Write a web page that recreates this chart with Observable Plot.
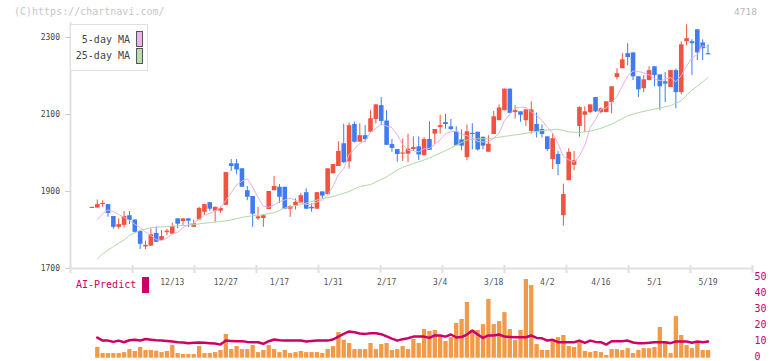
<!DOCTYPE html>
<html><head><meta charset="utf-8">
<script src="https://cdn.jsdelivr.net/npm/d3@7"></script>
<script src="https://cdn.jsdelivr.net/npm/@observablehq/plot@0.6"></script>
<style>
body{margin:0;background:#fff;}
#wrap{position:relative;width:772px;height:361px;overflow:hidden;font-family:"DejaVu Sans Mono",monospace;}
.abs{position:absolute;white-space:nowrap;line-height:1;}
</style></head><body><div id="wrap"></div>
<script>
const dates = ["2024-11-22","2024-11-25","2024-11-26","2024-11-27","2024-11-28","2024-11-29",
"2024-12-02","2024-12-03","2024-12-04","2024-12-05","2024-12-06",
"2024-12-09","2024-12-10","2024-12-11","2024-12-12","2024-12-13",
"2024-12-16","2024-12-17","2024-12-18","2024-12-19","2024-12-20",
"2024-12-23","2024-12-24","2024-12-25","2024-12-26","2024-12-27","2024-12-30",
"2025-01-06","2025-01-07","2025-01-08","2025-01-09","2025-01-10",
"2025-01-14","2025-01-15","2025-01-16","2025-01-17",
"2025-01-20","2025-01-21","2025-01-22","2025-01-23","2025-01-24",
"2025-01-27","2025-01-28","2025-01-29","2025-01-30","2025-01-31",
"2025-02-03","2025-02-04","2025-02-05","2025-02-06","2025-02-07",
"2025-02-10","2025-02-12","2025-02-13","2025-02-14",
"2025-02-17","2025-02-18","2025-02-19","2025-02-20","2025-02-21",
"2025-02-25","2025-02-26","2025-02-27","2025-02-28",
"2025-03-03","2025-03-04","2025-03-05","2025-03-06","2025-03-07",
"2025-03-10","2025-03-11","2025-03-12","2025-03-13","2025-03-14",
"2025-03-17","2025-03-18","2025-03-19","2025-03-21",
"2025-03-24","2025-03-25","2025-03-26","2025-03-27","2025-03-28",
"2025-03-31","2025-04-01","2025-04-02","2025-04-03","2025-04-04",
"2025-04-07","2025-04-08","2025-04-09","2025-04-10","2025-04-11",
"2025-04-14","2025-04-15","2025-04-16","2025-04-17","2025-04-18",
"2025-04-21","2025-04-22","2025-04-23","2025-04-24","2025-04-25",
"2025-04-28","2025-04-30","2025-05-01","2025-05-02",
"2025-05-07","2025-05-08","2025-05-09",
"2025-05-12","2025-05-13","2025-05-14","2025-05-15","2025-05-16","2025-05-19"];

const open = [1856,1857,1866,1866,1835,1807,1812,1837,1826,1796,
1756,1758,1791,1773,1793,1789,1829,1822,1829,1807,
1826,1846,1871,1849,1849,1864,1972,1972,1959,1902,
1887,1829,1830,1853,1902,1911,1911,1854,1863,1869,
1897,1859,1854,1899,1892,1946,1965,2024,1977,2074,
2028,2045,2054,2087,2123,2083,2022,2009,1997,1997,
2009,2016,1993,2035,2049,2066,2079,2068,2055,2034,
1988,2051,2054,2041,2002,2048,2084,2110,2166,2105,
2107,2084,2056,2074,2061,2042,1983,1996,1837,1928,
1968,2069,2098,2105,2144,2105,2105,2131,2196,2219,
2258,2260,2198,2167,2188,2224,2203,2185,2170,2214,
2157,2289,2289,2320,2286,2258];
const high = [1859,1878,1876,1866,1835,1829,1848,1848,1826,1798,
1771,1803,1808,1799,1802,1818,1829,1829,1829,1826,
1859,1866,1871,1860,1859,1950,1983,1983,1959,1913,
1887,1859,1840,1900,1939,1918,1911,1863,1881,1895,
1907,1868,1897,1899,1959,1970,2029,2075,2078,2080,
2076,2071,2110,2125,2144,2110,2035,2009,2036,2049,
2042,2042,2040,2081,2061,2098,2100,2087,2068,2060,
2073,2076,2054,2041,2045,2108,2125,2166,2166,2123,
2107,2112,2133,2104,2073,2042,2049,2004,1919,2011,
2004,2120,2120,2125,2144,2117,2133,2172,2219,2258,
2284,2260,2198,2201,2224,2224,2203,2209,2214,2218,
2289,2333,2294,2320,2294,2281];
const low = [1856,1857,1859,1833,1802,1802,1805,1814,1792,1749,
1749,1758,1768,1773,1785,1789,1803,1812,1806,1807,
1826,1838,1849,1820,1844,1864,1952,1944,1911,1876,
1807,1825,1807,1853,1902,1869,1854,1833,1852,1868,
1854,1846,1854,1880,1892,1946,1965,1973,1958,2026,
2028,2028,2054,2075,2071,2020,2002,1976,1978,1975,
2004,1980,1993,2007,2023,2049,2062,2058,2019,2006,
1980,2008,2005,2008,2002,2048,2084,2110,2103,2088,
2080,2069,2049,2039,2039,2004,1957,1941,1810,1928,
1954,2041,2054,2102,2105,2102,2105,2102,2190,2219,
2227,2188,2144,2157,2188,2172,2110,2131,2170,2115,
2151,2278,2201,2240,2240,2255];
const close = [1859,1866,1869,1843,1807,1814,1835,1825,1794,1763,
1760,1788,1768,1783,1797,1809,1815,1829,1823,1816,
1856,1866,1854,1859,1856,1949,1965,1956,1911,1885,
1841,1834,1837,1900,1913,1885,1854,1861,1872,1889,
1854,1855,1897,1888,1959,1970,2004,1975,2071,2028,
2045,2035,2089,2125,2082,2020,2012,1996,2000,2010,
2014,1995,2035,2007,2061,2071,2074,2061,2019,2018,
2055,2048,2008,2018,2023,2094,2117,2166,2103,2110,
2098,2112,2112,2054,2048,2009,2037,1970,1892,2002,
1980,2118,2107,2125,2107,2115,2133,2172,2206,2242,
2248,2198,2164,2190,2214,2201,2172,2179,2214,2157,
2281,2297,2284,2260,2271,2255];

const ma5 = [null,1826,1843,1852,1848,1840,1833,1825,1815,1806,
1795,1786,1775,1772,1779,1789,1794,1806,1814,1818,
1828,1838,1843,1850,1858,1877,1897,1917,1927,1933,
1912,1885,1862,1859,1865,1874,1878,1883,1877,1872,
1866,1866,1873,1877,1891,1914,1944,1959,1996,2010,
2025,2031,2054,2064,2075,2070,2066,2047,2022,2007,
2006,2003,2011,2012,2022,2034,2050,2055,2057,2049,
2045,2040,2030,2029,2030,2038,2052,2084,2101,2118,
2119,2118,2107,2097,2085,2067,2052,2024,1991,1982,
1976,1992,2020,2066,2087,2114,2117,2130,2147,2174,
2200,2213,2212,2208,2203,2193,2188,2191,2196,2185,
2201,2226,2247,2256,2279,2273];

const ma25 = [null,1725,1738,null,1757,1766,1774,1786,null,1799,
null,1806,null,null,1809,null,1811,null,1812,null,
1816,null,1819,null,1822,null,1826,null,1833,null,
1837,null,1840,null,1845,null,1857,null,null,1866,
null,null,1878,null,null,1887,null,null,1900,null,
1913,null,1918,null,null,1938,null,1956,1963,null,
null,1977,null,1987,null,null,2006,null,2020,null,
2034,null,2037,null,2037,null,null,2043,null,null,
2049,null,null,null,2058,null,null,2062,null,2055,
null,2053,null,2057,null,2064,null,2075,null,null,
2097,null,2105,null,null,2114,null,null,2123,null,
2136,2150,2163,null,2185,2196];

const volume = [null,6.7,2.9,2.9,2.9,2.9,3.5,5.4,4.2,6.7,
4.8,4.8,4.4,3.5,4.2,7.9,2.9,2.3,2.3,2.3,
7.3,2.9,2.9,3.5,4.8,14.8,5.4,7.3,5.4,5.4,
7.9,3.5,4.8,7.9,5.4,3.5,4.8,2.9,3.5,4.2,
3.5,3.5,3.5,2.9,5.4,7.3,16,11.2,9.2,5.4,
5.4,5.4,9.2,5.4,8.5,9.2,4.8,5.4,7.3,5.4,
11.7,9.2,17.9,16.7,17.3,13.5,10.4,12.9,21.7,24.2,
34.8,17.3,17.3,21,36.7,21,22.9,28.5,17.9,11,
17.3,49.2,45.4,8.5,4.8,4.8,11.7,12.9,14.2,7.3,
6.7,11,4.2,3.5,4.2,3.5,1.7,5.4,5.4,4.8,
6,2.9,4.8,6,6,6.7,19.2,9.8,2.9,26,
14.2,7.9,6,9.2,4.8,4.8];

const aiPredict = [null,12.9,11,11,10.2,11,10,11.2,11.5,11,
12,11.6,11.2,11,10.8,10.4,10,9.8,9.4,9.6,
9.8,9.6,9.4,9.2,8.5,11,10.8,10.6,10.6,10.2,
10,10,9,10.6,11.7,11.2,11,11,11,11,
10.4,10.8,11,11,11,11.7,13.5,15.2,16.7,16.2,
15.4,15.2,15.6,15.6,15,13.6,12.2,11,11.9,12.5,
13.5,13.5,13.5,12.7,14.2,14.2,13.5,14.8,13,13.2,
14.8,17.3,14.8,12.7,14.2,14.2,14.8,13.5,13.3,13.1,
13.1,13.1,14.2,12.7,12.4,11,11.5,10,10,10,
10,11,9.6,11,10.2,10,8.5,10.6,10.6,10.6,
11,9.8,9.4,9.4,9.6,10,10,10,9.4,10.4,
10.4,10.4,9.6,10.4,10,10.4];

const tickLabels = ["12/13","12/27","1/17","1/31","2/17","3/4","3/18","4/2","4/16","5/1","5/19"];
const priceTicks = [1700,1900,2100,2300];
const aiTicks = [0,10,20,30,40,50];

const RED = "#f0533f", BLUE = "#3e7cf0", PINK = "#e6b2e8", GREEN = "#b3d9a3";
const ORANGE = "#f39a47", CRIMSON = "#cc0066", AXIS = "#e0e0e0";
const FONT = "DejaVu Sans Mono";

const fmt = d => `${+d.slice(5,7)}/${+d.slice(8,10)}`;
const rows = dates.map((d, i) => ({i, date: d, open: open[i], high: high[i], low: low[i], close: close[i],
  ma5: ma5[i], ma25: ma25[i], vol: volume[i], ai: aiPredict[i]}));
const up = rows.filter(d => d.close >= d.open);
const down = rows.filter(d => d.close < d.open);
const labelIdx = tickLabels.map(l => dates.findIndex(d => fmt(d) === l));

const xDomain = [-4, 123.3];
const yDomain = [1700, 2339];
const gridTicks = d3.range(12).map(k => xDomain[0] + k * (xDomain[1] - xDomain[0]) / 11);

const topPlot = Plot.plot({
  width: 772, height: 300, marginLeft: 70, marginRight: 20, marginTop: 22, marginBottom: 32,
  x: {type: "linear", domain: xDomain},
  y: {domain: yDomain},
  style: {fontFamily: FONT, fontSize: "8px", background: "transparent", overflow: "visible"},
  marks: [
    Plot.ruleX([xDomain[0]], {y1: yDomain[0], y2: yDomain[1], stroke: AXIS, strokeWidth: 2}),
    Plot.ruleY([yDomain[0]], {x1: xDomain[0], x2: xDomain[1], stroke: AXIS, strokeWidth: 2}),
    Plot.ruleX(gridTicks, {y1: yDomain[0] + 8, y2: yDomain[0] - 13, stroke: AXIS, strokeWidth: 2}),
    Plot.axisY(priceTicks, {anchor: "left", tickSize: 5, tickPadding: 5.5, tickFormat: d => String(d), stroke: "#cfcfcf", fill: "#444", label: null}),
    Plot.axisX(labelIdx, {anchor: "bottom", tickSize: 0, tickPadding: 11.3, tickFormat: i => fmt(dates[i]), fill: "#555", label: null}),
    Plot.ruleX(up, {x: "i", y1: "low", y2: "high", stroke: RED, strokeWidth: 1}),
    Plot.ruleX(up, {x: "i", y1: "open", y2: "close", stroke: RED, strokeWidth: 4.6}),
    Plot.ruleX(down, {x: "i", y1: "low", y2: "high", stroke: BLUE, strokeWidth: 1}),
    Plot.ruleX(down, {x: "i", y1: "open", y2: "close", stroke: BLUE, strokeWidth: 4.6}),
    Plot.line(rows.filter(d => d.ma25 != null), {x: "i", y: "ma25", stroke: GREEN, strokeWidth: 1}),
    Plot.line(rows.filter(d => d.ma5 != null), {x: "i", y: "ma5", stroke: PINK, strokeWidth: 1})
  ]
});

const bottomPlot = Plot.plot({
  width: 772, height: 91, marginLeft: 70, marginRight: 20, marginTop: 7.7, marginBottom: 3.3,
  x: {type: "linear", domain: xDomain, axis: null},
  y: {domain: [0, 50], axis: null},
  style: {fontFamily: FONT, fontSize: "10px", background: "transparent", overflow: "visible"},
  marks: [
    Plot.ruleX(rows.filter(d => d.vol != null), {x: "i", y1: 0, y2: "vol", stroke: ORANGE, strokeWidth: 4.3}),
    Plot.line(rows.filter(d => d.ai != null), {x: "i", y: "ai", stroke: CRIMSON, strokeWidth: 2.5}),
    Plot.text(aiTicks, {frameAnchor: "right", y: d => d, text: d => String(d), textAnchor: "start", dx: 2, dy: -1.5, fill: CRIMSON})
  ]
});

const wrap = document.getElementById("wrap");
topPlot.style.position = "absolute"; topPlot.style.left = "0px"; topPlot.style.top = "0px";
bottomPlot.style.position = "absolute"; bottomPlot.style.left = "0px"; bottomPlot.style.top = "270px";
wrap.appendChild(topPlot);
wrap.appendChild(bottomPlot);

function addDiv(html, css) {
  const el = document.createElement("div");
  el.className = "abs";
  el.innerHTML = html;
  Object.assign(el.style, css);
  wrap.appendChild(el);
  return el;
}
addDiv("(C)https://chartnavi.com/", {left: "14px", top: "7px", fontSize: "10px", color: "#c6c6c6"});
addDiv("4718", {right: "15px", top: "7px", fontSize: "9.5px", color: "#b8b8b8"});
addDiv("", {left: "70px", top: "24px", width: "78px", height: "47px", border: "1.5px solid #e0e0e0", background: "#fff", boxSizing: "border-box"});
addDiv("5-day MA", {left: "70px", width: "60px", textAlign: "right", top: "34.8px", fontSize: "10px", color: "#444"});
addDiv("25-day MA", {left: "70px", width: "60px", textAlign: "right", top: "50.5px", fontSize: "10px", color: "#444"});
addDiv("", {left: "136px", top: "31px", width: "7px", height: "16px", background: "#e8b6e8", border: "1px solid #555", boxSizing: "border-box"});
addDiv("", {left: "136px", top: "48px", width: "7px", height: "15.5px", background: "#bcdcae", border: "1px solid #555", boxSizing: "border-box"});
addDiv("AI-Predict", {left: "76px", top: "280.1px", fontSize: "10px", color: CRIMSON});
addDiv("", {left: "142.3px", top: "276.7px", width: "6.4px", height: "16px", background: CRIMSON});
</script></body></html>
